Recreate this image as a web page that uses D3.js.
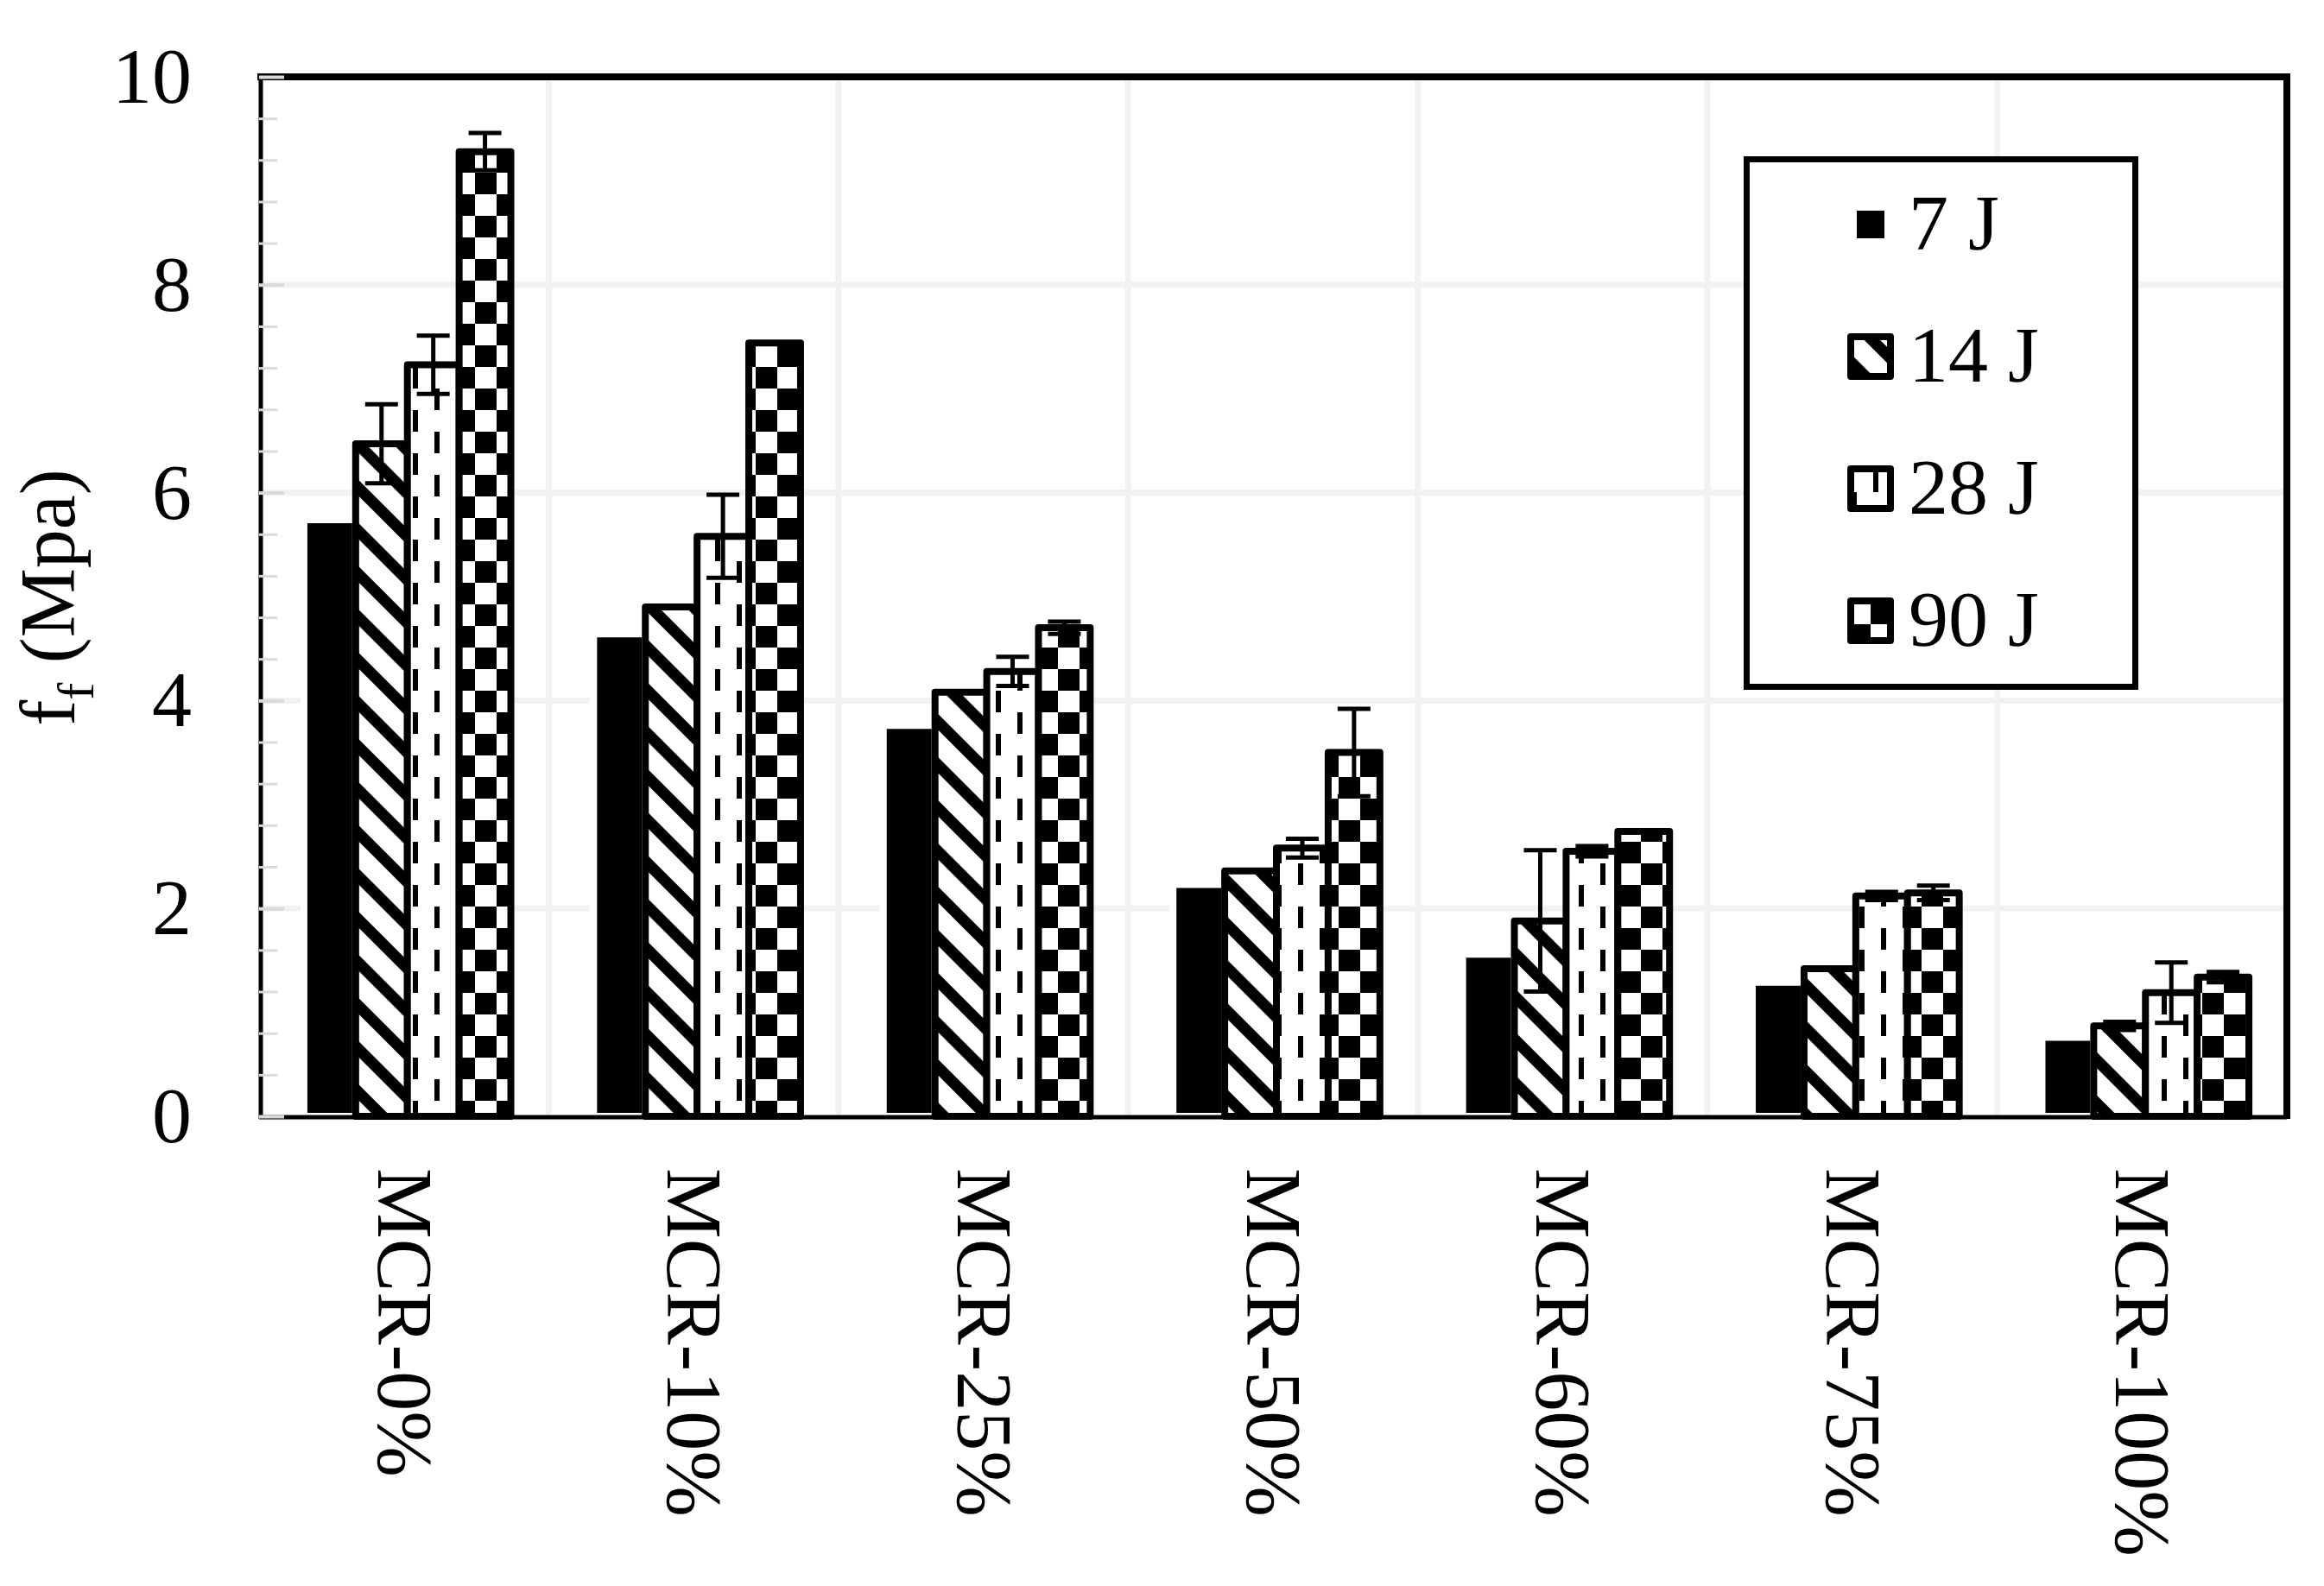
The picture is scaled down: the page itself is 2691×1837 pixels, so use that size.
<!DOCTYPE html>
<html>
<head>
<meta charset="utf-8">
<script src="https://cdn.jsdelivr.net/npm/d3@7"></script>
<style>
  html, body { margin: 0; padding: 0; background: #fff; }
  svg text { font-family: "Liberation Serif", "Times New Roman", serif; fill: #000; }
</style>
</head>
<body>
<div class="chart"></div>
<script>
// data
const categories = ['MCR-0%', 'MCR-10%', 'MCR-25%', 'MCR-50%', 'MCR-60%', 'MCR-75%', 'MCR-100%'];
const seriesNames = ['7 J', '14 J', '28 J', '90 J'];

const v7  = [5.74, 4.64, 3.76, 2.23, 1.56, 1.29, 0.76];
const v14 = [6.47, 4.90, 4.08, 2.36, 1.88, 1.42, 0.87];
const v28 = [7.23, 5.58, 4.28, 2.58, 2.55, 2.12, 1.19];
const v90 = [9.28, 7.44, 4.70, 3.50, 2.74, 2.15, 1.34];

const e7  = [0, 0, 0, 0, 0, 0, 0];
const e14 = [0.38, 0, 0, 0, 0.68, 0, 0.04];
const e28 = [0.28, 0.40, 0.14, 0.09, 0.05, 0.04, 0.29];
const e90 = [0.18, 0, 0.06, 0.42, 0, 0.07, 0.05];

const yMajorTicks = [0, 2, 4, 6, 8, 10];
const yTitle = 'f';
const yTitleSub = 'f';
const yTitleRest = ' (Mpa)';

const W = 2691, H = 1837;
const plot = {left: 300, top: 89, right: 2648, bottom: 1293};
const barShift = 4;
const fontSize = 92;

const values = [v7, v14, v28, v90];
const errors = [e7, e14, e28, e90];
const rows = [];
seriesNames.forEach((s, si) => {
  categories.forEach((c, ci) => {
    rows.push({series: s, cat: c, v: values[si][ci], e: errors[si][ci]});
  });
});

// look of each series (kept apart from the values)
const looks = {
  '7 J':  {fill: '#000', stroke: '#fff'},
  '14 J': {fill: 'url(#p-diag)', stroke: '#000'},
  '28 J': {fill: 'url(#p-dash)', stroke: '#000'},
  '90 J': {fill: 'url(#p-check)', stroke: '#000'}
};

const yScale = d3.scaleLinear().domain([0, 10]).range([plot.bottom, plot.top]);
const x0 = d3.scaleBand().domain(categories).range([plot.left, plot.right])
    .paddingInner(0.2857).paddingOuter(0.1429);
const x1 = d3.scaleBand().domain(seriesNames).range([0, x0.bandwidth()]);

const svg = d3.select('.chart').append('svg')
    .attr('width', W).attr('height', H)
    .attr('viewBox', `0 0 ${W} ${H}`);

svg.append('rect').attr('width', W).attr('height', H).attr('fill', '#fff');

const initPatterns = function () {
  const defs = svg.append('defs');

  const diag = defs.append('pattern').attr('id', 'p-diag')
      .attr('patternUnits', 'userSpaceOnUse').attr('width', 50).attr('height', 50);
  diag.append('rect').attr('width', 50).attr('height', 50).attr('fill', '#fff');
  diag.append('path')
      .attr('d', 'M-10,-10L60,60M-10,40L10,60M40,-10L60,10')
      .attr('stroke', '#000').attr('stroke-width', 13);

  const dash = defs.append('pattern').attr('id', 'p-dash')
      .attr('patternUnits', 'userSpaceOnUse').attr('width', 50).attr('height', 50);
  dash.append('rect').attr('width', 50).attr('height', 50).attr('fill', '#fff');
  dash.append('rect').attr('x', 3).attr('y', 0).attr('width', 6).attr('height', 25).attr('fill', '#000');
  dash.append('rect').attr('x', 28).attr('y', 25).attr('width', 6).attr('height', 25).attr('fill', '#000');

  const check = defs.append('pattern').attr('id', 'p-check')
      .attr('patternUnits', 'userSpaceOnUse').attr('width', 50).attr('height', 50);
  check.append('rect').attr('width', 50).attr('height', 50).attr('fill', '#fff');
  check.append('rect').attr('width', 25).attr('height', 25).attr('fill', '#000');
  check.append('rect').attr('x', 25).attr('y', 25).attr('width', 25).attr('height', 25).attr('fill', '#000');
};

const drawGrid = function () {
  const g = svg.append('g').attr('class', 'grid');
  g.selectAll('.hgrid')
    .data(yMajorTicks.filter(d => d > 0 && d < 10))
    .enter().append('line')
      .attr('x1', plot.left).attr('x2', plot.right)
      .attr('y1', d => yScale(d)).attr('y2', d => yScale(d))
      .attr('stroke', '#f2f2f2').attr('stroke-width', 7);
  g.selectAll('.vgrid')
    .data(categories.slice(1))
    .enter().append('line')
      .attr('x1', d => x0(d) - x0.step() * x0.paddingInner() / 2)
      .attr('x2', d => x0(d) - x0.step() * x0.paddingInner() / 2)
      .attr('y1', plot.top).attr('y2', plot.bottom)
      .attr('stroke', '#f2f2f2').attr('stroke-width', 7);
};

const drawYAxis = function () {
  // light inner minor ticks every 0.4
  svg.append('g')
      .attr('transform', `translate(${plot.left},0)`)
      .call(d3.axisRight(yScale).tickValues(d3.range(0, 10.01, 0.4)).tickSize(21).tickFormat(''))
      .call(g => g.select('.domain').remove())
      .call(g => g.selectAll('line').attr('stroke', '#d9d9d9').attr('stroke-width', 3));
  svg.append('g')
      .attr('transform', `translate(${plot.left},0)`)
      .call(d3.axisRight(yScale).tickValues(yMajorTicks).tickSize(29).tickFormat(''))
      .call(g => g.select('.domain').remove())
      .call(g => g.selectAll('line').attr('stroke', '#d9d9d9').attr('stroke-width', 4));

  const axis = svg.append('g')
      .attr('class', 'axis axis--y')
      .attr('transform', `translate(${plot.left},0)`)
      .call(d3.axisLeft(yScale).tickValues(yMajorTicks).tickSize(0).tickPadding(78).tickFormat(d3.format('d')));
  axis.select('.domain').remove();
  axis.selectAll('text')
      .style('font-family', '"Liberation Serif", serif')
      .attr('font-size', fontSize)
      .attr('fill', '#000');

  const title = svg.append('text')
      .attr('transform', `translate(86,692) rotate(-90)`)
      .attr('text-anchor', 'middle')
      .attr('font-size', 90);
  title.append('tspan').text(yTitle);
  title.append('tspan').attr('font-size', 60).attr('dy', 22).text(yTitleSub);
  title.append('tspan').attr('dy', -22).text(yTitleRest);
};

const drawXAxis = function () {
  const axis = svg.append('g')
      .attr('class', 'axis axis--x')
      .attr('transform', `translate(0,${plot.bottom})`)
      .call(d3.axisBottom(x0).tickSize(0));
  axis.select('.domain').remove();
  axis.selectAll('text')
      .style('font-family', '"Liberation Serif", serif')
      .attr('font-size', fontSize)
      .attr('fill', '#000')
      .attr('x', 0).attr('y', 0).attr('dy', 0)
      .attr('text-anchor', 'start')
      .attr('transform', 'translate(-30,60) rotate(90)');
};

const drawBars = function () {
  const g = svg.append('g').attr('class', 'bars-g');
  g.selectAll('.bar')
    .data(rows)
    .enter().append('rect')
      .attr('class', 'bar')
      .attr('x', d => x0(d.cat) + x1(d.series) + barShift)
      .attr('y', d => yScale(d.v))
      .attr('width', x1.bandwidth())
      .attr('height', d => yScale(0) - yScale(d.v))
      .attr('fill', d => looks[d.series].fill)
      .attr('stroke', d => looks[d.series].stroke)
      .attr('stroke-width', 8)
      .attr('stroke-linejoin', 'round');
};

const drawErrors = function () {
  const g = svg.append('g').attr('class', 'errors');
  const withErr = rows.filter(d => d.e > 0);
  const cx = d => x0(d.cat) + x1(d.series) + barShift + x1.bandwidth() / 2;
  g.selectAll('.stem').data(withErr).enter().append('line')
      .attr('x1', cx).attr('x2', cx)
      .attr('y1', d => yScale(d.v - d.e)).attr('y2', d => yScale(d.v + d.e))
      .attr('stroke', '#000').attr('stroke-width', 5);
  ['+', '-'].forEach(sign => {
    g.selectAll('.cap' + (sign === '+' ? 'u' : 'd')).data(withErr).enter().append('line')
        .attr('x1', d => cx(d) - 19).attr('x2', d => cx(d) + 19)
        .attr('y1', d => yScale(sign === '+' ? d.v + d.e : d.v - d.e))
        .attr('y2', d => yScale(sign === '+' ? d.v + d.e : d.v - d.e))
        .attr('stroke', '#000').attr('stroke-width', 5);
  });
};

const drawFrame = function () {
  const g = svg.append('g').attr('class', 'frame');
  g.append('line').attr('x1', plot.left - 2).attr('x2', plot.right + 4)
      .attr('y1', plot.top).attr('y2', plot.top).attr('stroke', '#000').attr('stroke-width', 8);
  g.append('line').attr('x1', plot.right).attr('x2', plot.right)
      .attr('y1', plot.top).attr('y2', plot.bottom + 3).attr('stroke', '#000').attr('stroke-width', 8);
  g.append('line').attr('x1', plot.left + 2).attr('x2', plot.left + 2)
      .attr('y1', plot.top).attr('y2', plot.bottom + 3).attr('stroke', '#000').attr('stroke-width', 5);
  g.append('line').attr('x1', plot.left).attr('x2', plot.right)
      .attr('y1', plot.bottom + 1).attr('y2', plot.bottom + 1).attr('stroke', '#000').attr('stroke-width', 5);
};

const drawLegend = function () {
  const g = svg.append('g').attr('class', 'legend');
  g.append('rect')
      .attr('x', 2022.5).attr('y', 184.5).attr('width', 450).attr('height', 611)
      .attr('fill', '#fff').attr('stroke', '#000').attr('stroke-width', 7);
  const item = g.selectAll('.item').data(seriesNames).enter().append('g')
      .attr('class', 'item')
      .attr('transform', (d, i) => `translate(2166,${289 + i * 153})`);
  item.append('rect')
      .attr('x', d => d === '7 J' ? -16 : -23)
      .attr('y', d => d === '7 J' ? -45 : -52)
      .attr('width', d => d === '7 J' ? 32 : 46)
      .attr('height', d => d === '7 J' ? 32 : 46)
      .attr('fill', d => looks[d].fill)
      .attr('stroke', d => d === '7 J' ? 'none' : '#000')
      .attr('stroke-width', 8)
      .attr('stroke-linejoin', 'round');
  item.append('text')
      .attr('x', 44).attr('y', 0)
      .attr('font-size', fontSize)
      .text(d => d);
};

initPatterns();
drawGrid();
drawBars();
drawErrors();
drawFrame();
drawYAxis();
drawXAxis();
drawLegend();
</script>
</body>
</html>
